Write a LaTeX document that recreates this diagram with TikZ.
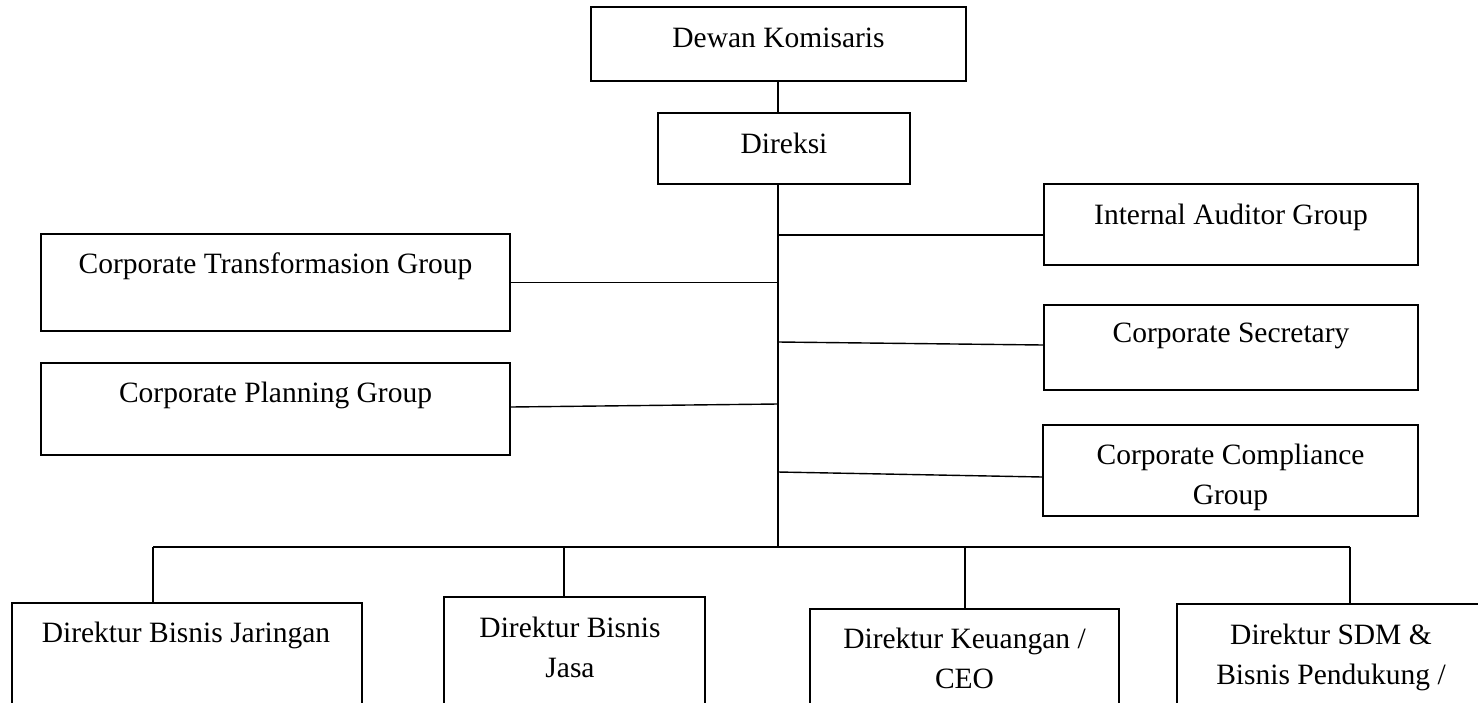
\documentclass[tikz,border=0pt]{standalone}
\usepackage{fontspec}
\setmainfont{Liberation Serif}
\newcommand{\twoline}[2]{\begin{tabular}[t]{@{}c@{}}#1\\#2\end{tabular}}
\begin{document}
\begin{tikzpicture}[x=1pt,y=-1pt,
  box/.style={draw, line width=1.4pt, inner sep=0pt},
  lbl/.style={anchor=base, inner sep=0pt, font=\fontsize{29.5}{40}\selectfont},
  conn/.style={line width=1.4pt}]
\useasboundingbox (0,0) rectangle (1478,702);
\clip (0,0) rectangle (1478,702);
% boxes
\node[box, minimum width=375pt, minimum height=74pt] (dk) at (778.5,44) {};
\node[box, minimum width=252pt, minimum height=71pt] (dir) at (784,148.5) {};
\node[box, minimum width=374pt, minimum height=81pt] (iag) at (1231,224.5) {};
\node[box, minimum width=469pt, minimum height=97pt] (ctg) at (275.5,282.5) {};
\node[box, minimum width=374pt, minimum height=85pt] (cs) at (1231,347.5) {};
\node[box, minimum width=469pt, minimum height=92pt] (cpg) at (275.5,409) {};
\node[box, minimum width=375pt, minimum height=91pt] (ccg) at (1230.5,470.5) {};
\node[box, minimum width=350pt, minimum height=157pt] (b1) at (187,681.5) {};
\node[box, minimum width=261pt, minimum height=163pt] (b2) at (574.5,678.5) {};
\node[box, minimum width=309pt, minimum height=151pt] (b3) at (964.5,684.5) {};
\node[box, minimum width=308pt, minimum height=156pt] (b4) at (1331,682) {};
% texts
\node[lbl] (tdk) at (778.5,47) {Dewan Komisaris};
\node[lbl] (tdir) at (784,153) {Direksi};
\node[lbl] (tiag) at (1231,224) {Internal Auditor Group};
\node[lbl] (tctg) at (275.5,273) {Corporate Transformasion Group};
\node[lbl] (tcs) at (1231,342) {Corporate Secretary};
\node[lbl] (tcpg) at (275.5,402) {Corporate Planning Group};
\node[lbl] (tccg) at (1230.5,464) {\twoline{Corporate Compliance}{Group}};
\node[lbl] (tb1) at (186,642) {Direktur Bisnis Jaringan};
\node[lbl] (tb2) at (570,637) {\twoline{Direktur Bisnis}{Jasa}};
\node[lbl] (tb3) at (964.5,648) {\twoline{Direktur Keuangan /}{CEO}};
\node[lbl] (tb4) at (1331,644) {\twoline{Direktur SDM \&}{Bisnis Pendukung /}};
% trunk coordinates
\coordinate (top) at (778,0);
\coordinate (bus) at (778,547);
\coordinate (jiag) at (778,235);
\coordinate (jcs) at (778,342);
\coordinate (jcpg) at (778,404);
\coordinate (jccg) at (778,472);
% connectors
\draw[conn] (dk.south -| top) -- (dir.north -| top);
\draw[conn] (dir.south -| top) -- (bus);
\draw[conn] (jiag) -- ([yshift=-10.5pt]iag.west);
\draw[conn] (ctg.east) -- (ctg.east -| top);
\draw[conn] (jcs) -- ([yshift=2.5pt]cs.west);
\draw[conn] ([yshift=2pt]cpg.east) -- (jcpg);
\draw[conn] (jccg) -- ([yshift=-6.5pt]ccg.west);
\coordinate (d1) at (153,547);
\coordinate (d2) at (564,547);
\coordinate (d3) at (965,547);
\coordinate (d4) at (1350,547);
\draw[conn] (d1) -- (d4);
\draw[conn] (d1) -- (d1 |- b1.north);
\draw[conn] (d2) -- (d2 |- b2.north);
\draw[conn] (d3) -- (d3 |- b3.north);
\draw[conn] (d4) -- (d4 |- b4.north);
\end{tikzpicture}
\end{document}
